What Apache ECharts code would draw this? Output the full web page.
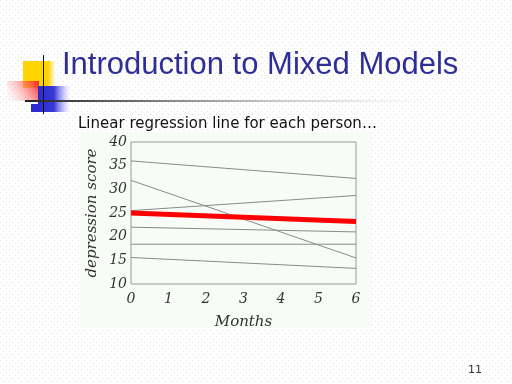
<!DOCTYPE html>
<html>
<head>
<meta charset="utf-8">
<script src="https://cdn.jsdelivr.net/npm/echarts@6/dist/echarts.min.js"></script>
<style>html,body{margin:0;padding:0;background:#fff}#c{width:512px;height:384px}</style>
</head>
<body>
<div id="c"></div>
<script>
// ---- data ----
const months = [0, 6];
const xTicks = [0, 1, 2, 3, 4, 5, 6];
const yTicks = [10, 15, 20, 25, 30, 35, 40];
const person1 = [36.0, 32.3];
const person2 = [31.9, 15.5];
const person3 = [25.5, 28.7];
const person4 = [22.0, 21.0];
const person5 = [18.4, 18.4];
const person6 = [15.6, 13.3];
const overall = [25.0, 23.2];
const titleText = 'Introduction to Mixed Models';
const subtitleText = 'Linear regression line for each person…';
const xName = 'Months';
const yName = 'depression score';
const pageNum = '11';

// dotted slide background
const pc = document.createElement('canvas');
pc.width = 6; pc.height = 6;
const pctx = pc.getContext('2d');
pctx.fillStyle = '#ffffff'; pctx.fillRect(0, 0, 6, 6);
pctx.fillStyle = '#e2e2e2'; pctx.fillRect(0, 0, 1, 1); pctx.fillRect(3, 3, 1, 1);

const toPts = vals => months.map((m, i) => [m, vals[i]]);
const people = [person1, person2, person3, person4, person5, person6];

const series = people.map(p => ({
  type: 'line', data: toPts(p), symbol: 'none', silent: true,
  lineStyle: { color: '#8a8a8a', width: 1 }, z: 2
}));
series.push({
  type: 'line', data: toPts(overall), symbol: 'none', silent: true,
  lineStyle: { color: '#ff0000', width: 5 }, z: 3
});

const chart = echarts.init(document.getElementById('c'), null, { renderer: 'canvas' });
chart.setOption({
  animation: false,
  backgroundColor: { image: pc, repeat: 'repeat' },
  grid: { left: 131, right: 156, top: 142, bottom: 100, show: true, borderColor: '#9a9a9a', borderWidth: 1, backgroundColor: 'transparent' },
  xAxis: {
    type: 'value', min: 0, max: 6, interval: 1,
    axisLine: { show: false }, axisTick: { show: false }, splitLine: { show: false },
    axisLabel: { fontFamily: 'DejaVu Serif', fontStyle: 'italic', fontSize: 14, color: '#333', margin: 8 },
    name: xName, nameLocation: 'middle', nameGap: 31,
    nameTextStyle: { fontFamily: 'DejaVu Serif', fontStyle: 'italic', fontSize: 15, color: '#333' }
  },
  yAxis: {
    type: 'value', min: 10, max: 40, interval: 5,
    axisLine: { show: false }, axisTick: { show: false }, splitLine: { show: false },
    axisLabel: { fontFamily: 'DejaVu Serif', fontStyle: 'italic', fontSize: 14, color: '#333', margin: 4 },
    name: yName, nameLocation: 'middle', nameGap: 31,
    nameTextStyle: { fontFamily: 'DejaVu Serif', fontStyle: 'italic', fontSize: 15, color: '#333' }
  },
  series: series,
  graphic: [
    { type: 'rect', z: -1, shape: { x: 80, y: 132, width: 292, height: 196 }, style: { fill: '#f8fcf7' } },
    // logo
    { type: 'rect', shape: { x: 23, y: 61, width: 32, height: 27 },
      style: { fill: new echarts.graphic.LinearGradient(0, 0, 1, 0, [{ offset: 0, color: '#ffd400' }, { offset: 0.8, color: '#ffd400' }, { offset: 1, color: 'rgba(255,230,120,0.2)' }]) } },
    { type: 'rect', shape: { x: 7, y: 81, width: 32, height: 20 },
      style: { fill: new echarts.graphic.LinearGradient(1, 0, 0, 1, [{ offset: 0, color: '#ff2020' }, { offset: 1, color: 'rgba(255,200,200,0)' }]) } },
    { type: 'rect', shape: { x: 38, y: 86, width: 32, height: 26 },
      style: { fill: new echarts.graphic.LinearGradient(0, 0, 1, 0, [{ offset: 0, color: '#2a2ad0' }, { offset: 0.5, color: '#3a3ad8' }, { offset: 1, color: 'rgba(150,150,255,0)' }]) } },
    { type: 'rect', shape: { x: 31, y: 104, width: 8, height: 8 }, style: { fill: '#2a2ad0' } },
    { type: 'line', shape: { x1: 43.5, y1: 55, x2: 43.5, y2: 114 }, style: { stroke: '#111', lineWidth: 1 } },
    { type: 'rect', shape: { x: 25, y: 100, width: 410, height: 2 },
      style: { fill: new echarts.graphic.LinearGradient(0, 0, 1, 0, [{ offset: 0, color: '#222' }, { offset: 0.3, color: '#777' }, { offset: 1, color: 'rgba(200,200,200,0)' }]) } },
    // texts
    { type: 'text', left: 62, top: 50, style: { text: titleText, font: '31px "Liberation Sans"', fill: '#2e2e99' } },
    { type: 'text', left: 78, top: 117, style: { text: subtitleText, font: '15px "DejaVu Sans"', fill: '#111' } },
    { type: 'text', left: 468, top: 365, style: { text: pageNum, font: '11px "DejaVu Sans"', fill: '#333' } }
  ]
});
</script>
</body>
</html>
